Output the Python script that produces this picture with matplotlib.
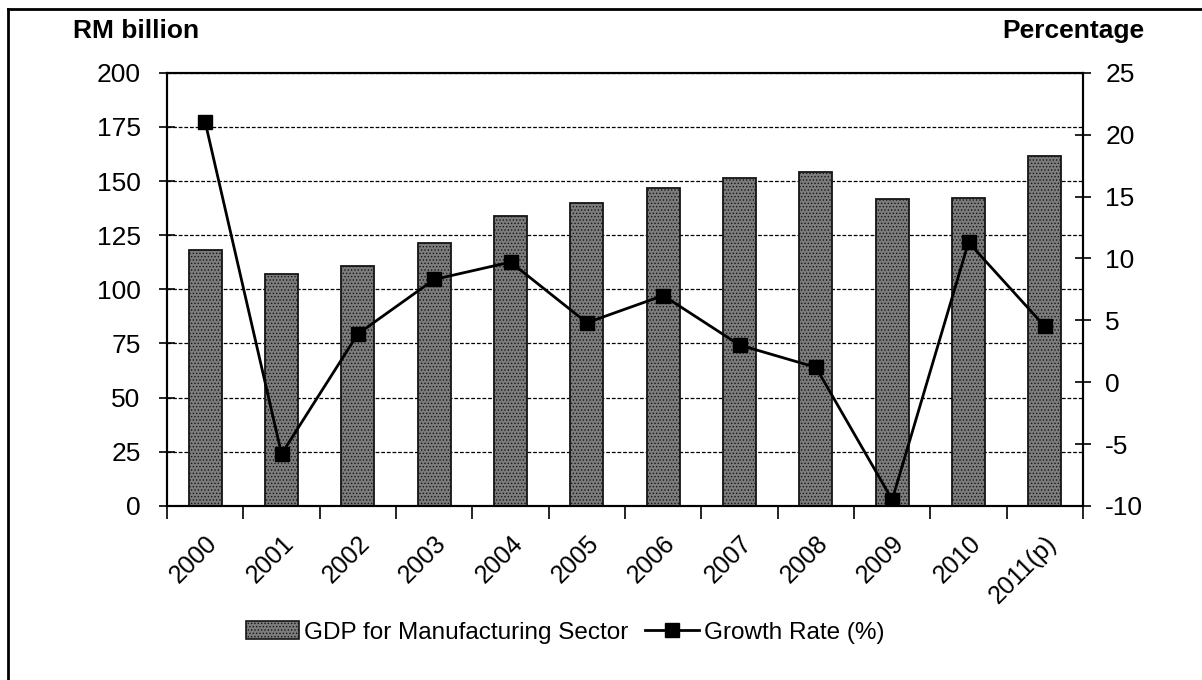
import numpy as np
import matplotlib
matplotlib.use('Agg')
import matplotlib.pyplot as plt
from matplotlib.lines import Line2D

plt.rcParams['font.family'] = ['Liberation Sans', 'DejaVu Sans']
plt.rcParams['hatch.linewidth'] = 0.6
plt.rcParams['axes.unicode_minus'] = False

years = ['2000', '2001', '2002', '2003', '2004', '2005', '2006',
         '2007', '2008', '2009', '2010', '2011(p)']
gdp = [118, 107, 111, 121.5, 134, 140, 147, 151.5, 154, 141.5, 142, 161.5]
growth = [21.0, -5.8, 3.9, 8.3, 9.7, 4.8, 7.0, 3.0, 1.2, -9.5, 11.3, 4.5]

fig = plt.figure(figsize=(12.02, 6.80), dpi=100)
ax = fig.add_axes([0.139, 0.256, 0.762, 0.637])
ax2 = ax.twinx()

x = np.arange(len(years))

# bars
ax.bar(x, gdp, width=0.43, color='#7c7c7c', edgecolor='#151515',
       linewidth=1.3, hatch='.....', zorder=2)
ax.set_xlim(-0.5, len(years) - 0.5)
ax.set_ylim(0, 200)
ax.set_yticks(np.arange(0, 201, 25))
ax.yaxis.grid(True, linestyle=(0, (3, 1.5)), color='black', linewidth=0.9)
ax.set_axisbelow(True)

# category ticks go between the bars
ax.set_xticks(x)
ax.set_xticklabels(years, rotation=45, ha='right', rotation_mode='anchor',
                   fontsize=18)
ax.tick_params(axis='x', which='major', length=0, pad=18)
ax.set_xticks(np.arange(-0.5, len(years), 1), minor=True)
ax.tick_params(axis='x', which='minor', length=9, width=1.2, direction='out')
ax.tick_params(axis='y', length=12, width=1.2, direction='inout',
               labelsize=19, pad=13)

# growth line on the right axis
ax2.plot(x, growth, color='black', linewidth=2, marker='s', markersize=10,
         zorder=3)
ax2.set_ylim(-10, 25)
ax2.set_yticks(np.arange(-10, 26, 5))
ax2.tick_params(axis='y', length=12, width=1.2, direction='inout',
                labelsize=19, pad=10)

for a in (ax, ax2):
    for s in a.spines.values():
        s.set_linewidth(1.5)
        s.set_color('black')

fig.text(0.061, 0.955, 'RM billion', fontsize=19, fontweight='bold',
         va='center')
fig.text(0.952, 0.955, 'Percentage', fontsize=19, fontweight='bold',
         ha='right', va='center')

handles = [
    plt.Rectangle((0, 0), 1, 1, facecolor='#7c7c7c', edgecolor='#151515',
                  hatch='.....', linewidth=1.2),
    Line2D([0], [0], color='black', linewidth=2, marker='s', markersize=10),
]
fig.legend(handles, ['GDP for Manufacturing Sector', 'Growth Rate (%)'],
           loc='center', bbox_to_anchor=(0.470, 0.07), ncol=2, frameon=False,
           fontsize=17.5, handlelength=2.2, handleheight=0.75,
           columnspacing=0.7, handletextpad=0.2)

# frame lines on the left and top of the picture
fig.add_artist(Line2D([0.0067, 0.0067], [0, 0.987], color='black',
                      linewidth=2, transform=fig.transFigure))
fig.add_artist(Line2D([0.0067, 1], [0.987, 0.987], color='black',
                      linewidth=2, transform=fig.transFigure))

fig.savefig('out.png', dpi=100)
